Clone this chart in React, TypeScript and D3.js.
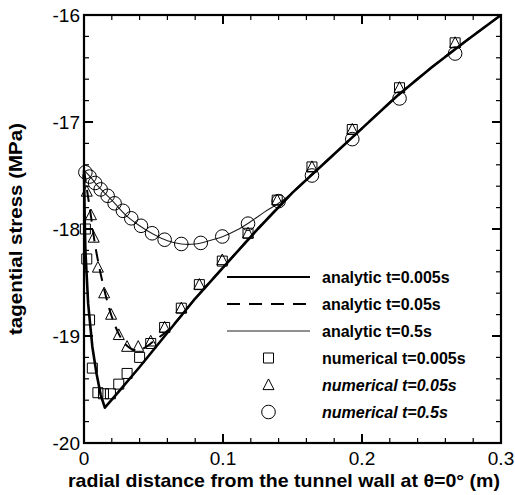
import React from "react";
import * as d3 from "d3";

// Analytic solutions (radial distance in m, tangential stress in MPa)
const analytic005R = [0, 0.0005, 0.001, 0.003, 0.006, 0.009, 0.012, 0.015, 0.025, 0.04, 0.06, 0.08, 0.1, 0.125, 0.15, 0.175, 0.2, 0.225, 0.25, 0.275, 0.3];
const analytic005V = [-17.45, -17.9, -18.2, -18.7, -19.1, -19.35, -19.55, -19.67, -19.52, -19.29, -18.97, -18.65, -18.36, -18.0, -17.66, -17.36, -17.06, -16.76, -16.49, -16.24, -16.0];

const analytic05R = [0, 0.002, 0.005, 0.008, 0.012, 0.016, 0.02, 0.025, 0.03, 0.036, 0.042, 0.05, 0.06, 0.07, 0.08, 0.1, 0.125, 0.15, 0.175, 0.2, 0.225, 0.25, 0.275, 0.3];
const analytic05V = [-17.45, -17.62, -17.88, -18.15, -18.42, -18.64, -18.82, -18.98, -19.08, -19.13, -19.12, -19.05, -18.95, -18.81, -18.65, -18.36, -18.0, -17.66, -17.36, -17.06, -16.76, -16.49, -16.24, -16.0];

const analytic5R = [0, 0.005, 0.01, 0.02, 0.03, 0.04, 0.05, 0.06, 0.07, 0.08, 0.09, 0.1, 0.11, 0.12, 0.13, 0.14, 0.15, 0.175, 0.2, 0.225, 0.25, 0.275, 0.3];
const analytic5V = [-17.45, -17.52, -17.6, -17.73, -17.87, -17.97, -18.05, -18.11, -18.14, -18.14, -18.11, -18.07, -18.01, -17.93, -17.84, -17.76, -17.66, -17.36, -17.06, -16.76, -16.49, -16.24, -16.0];

// Numerical results
const numeric005R = [0.001, 0.002, 0.004, 0.006, 0.01, 0.014, 0.019, 0.025, 0.031, 0.04, 0.048, 0.058, 0.07, 0.083, 0.0995, 0.118, 0.139, 0.164, 0.193, 0.227, 0.267];
const numeric005V = [-18.0, -18.28, -18.85, -19.3, -19.53, -19.54, -19.54, -19.45, -19.35, -19.2, -19.07, -18.92, -18.74, -18.52, -18.3, -18.04, -17.73, -17.42, -17.07, -16.68, -16.26];

const numeric05R = [0.002, 0.005, 0.007, 0.01, 0.0145, 0.0195, 0.025, 0.031, 0.039, 0.048, 0.058, 0.07, 0.083, 0.0995, 0.118, 0.139, 0.164, 0.193, 0.227, 0.267];
const numeric05V = [-17.65, -17.87, -18.08, -18.36, -18.6, -18.8, -18.99, -19.1, -19.1, -19.05, -18.92, -18.74, -18.52, -18.29, -18.04, -17.73, -17.42, -17.07, -16.68, -16.26];

const numeric5R = [0.001, 0.004, 0.008, 0.012, 0.017, 0.022, 0.028, 0.034, 0.041, 0.049, 0.058, 0.07, 0.084, 0.0995, 0.118, 0.14, 0.164, 0.193, 0.227, 0.267];
const numeric5V = [-17.47, -17.51, -17.57, -17.63, -17.69, -17.76, -17.83, -17.9, -17.97, -18.04, -18.1, -18.14, -18.13, -18.07, -17.95, -17.74, -17.5, -17.16, -16.78, -16.36];

const xTicks = [0, 0.1, 0.2, 0.3];
const xTickLabels = ["0", "0.1", "0.2", "0.3"];
const yTicks = [-20, -19, -18, -17, -16];
const yTickLabels = ["-20", "-19", "-18", "-17", "-16"];

const legendLabels = [
  "analytic t=0.005s",
  "analytic t=0.05s",
  "analytic t=0.5s",
  "numerical t=0.005s",
  "numerical t=0.05s",
  "numerical t=0.5s",
];

const W = 515;
const H = 495;
const FONT = "'Liberation Sans', Arial, Helvetica, sans-serif";

const x = d3.scaleLinear().domain([0, 0.3]).range([84, 501]);
const y = d3.scaleLinear().domain([-20, -16]).range([443, 15]);

const zip = (rs: number[], vs: number[]) => rs.map((r, i) => [r, vs[i]] as [number, number]);

const linePath = (rs: number[], vs: number[], curve: d3.CurveFactory) =>
  d3
    .line<[number, number]>()
    .x((d) => x(d[0]))
    .y((d) => y(d[1]))
    .curve(curve)(zip(rs, vs)) || "";

const SQ = 10;
const squarePath = (cx: number, cy: number) =>
  `M${cx - SQ / 2},${cy - SQ / 2}h${SQ}v${SQ}h${-SQ}Z`;
const TRI = 11;
const trianglePath = (cx: number, cy: number) =>
  `M${cx},${cy - TRI * 0.55}L${cx + TRI / 2},${cy + TRI * 0.42}L${cx - TRI / 2},${cy + TRI * 0.42}Z`;
const CR = 6.8;

export default function App() {
  const [x0, x1] = x.range();
  const [yb, yt] = y.range();

  const xMinor = d3.range(0, 0.3001, 0.02);
  const yMinor = d3.range(-20, -15.999, 0.2);

  const legendY = (i: number) => 277 + i * 27;
  const lx0 = 227;
  const lx1 = 310;
  const lcx = (lx0 + lx1) / 2;
  const textX = 322;

  return (
    <svg width={W} height={H} style={{ display: "block", position: "absolute", left: 0, top: 0 }} fontFamily={FONT}>
      <rect x={0} y={0} width={W} height={H} fill="#fff" />

      {/* ticks on all four sides, pointing inward */}
      <g stroke="#000" strokeWidth={1.2}>
        {xMinor.map((t, i) => {
          const major = Math.abs(t * 10 - Math.round(t * 10)) < 1e-6;
          const len = major ? 9 : 5;
          return (
            <g key={"xt" + i}>
              <line x1={x(t)} x2={x(t)} y1={yb} y2={yb - len} strokeWidth={major ? 2 : 1.2} />
              <line x1={x(t)} x2={x(t)} y1={yt} y2={yt + len} strokeWidth={major ? 2 : 1.2} />
            </g>
          );
        })}
        {yMinor.map((t, i) => {
          const major = Math.abs(t - Math.round(t)) < 1e-6;
          const len = major ? 9 : 5;
          return (
            <g key={"yt" + i}>
              <line y1={y(t)} y2={y(t)} x1={x0} x2={x0 + len} strokeWidth={major ? 2 : 1.2} />
              <line y1={y(t)} y2={y(t)} x1={x1} x2={x1 - len} strokeWidth={major ? 2 : 1.2} />
            </g>
          );
        })}
      </g>

      {/* analytic curves */}
      <path d={linePath(analytic5R, analytic5V, d3.curveCatmullRom)} fill="none" stroke="#222" strokeWidth={1.1} />
      <path d={linePath(analytic05R, analytic05V, d3.curveCatmullRom)} fill="none" stroke="#000" strokeWidth={2} strokeDasharray="12 8" />
      <path d={linePath(analytic005R, analytic005V, d3.curveLinear)} fill="none" stroke="#000" strokeWidth={2.6} strokeLinejoin="round" />

      {/* numerical results */}
      <g fill="none" stroke="#000" strokeWidth={1}>
        {numeric005R.map((r, i) => (
          <path key={"s" + i} d={squarePath(x(r), y(numeric005V[i]))} />
        ))}
        {numeric05R.map((r, i) => (
          <path key={"t" + i} d={trianglePath(x(r), y(numeric05V[i]))} />
        ))}
        {numeric5R.map((r, i) => (
          <circle key={"c" + i} cx={x(r)} cy={y(numeric5V[i])} r={CR} />
        ))}
      </g>

      {/* frame */}
      <rect x={x0} y={yt} width={x1 - x0} height={yb - yt} fill="none" stroke="#000" strokeWidth={2.2} />

      {/* tick labels */}
      <g fontSize={19} fill="#000">
        {xTicks.map((t, i) => (
          <text key={"xl" + i} x={x(t)} y={465} textAnchor="middle">
            {xTickLabels[i]}
          </text>
        ))}
        {yTicks.map((t, i) => (
          <text key={"yl" + i} x={80} y={y(t) + 7} textAnchor="end">
            {yTickLabels[i]}
          </text>
        ))}
      </g>

      {/* axis titles */}
      <text x={284} y={487} textAnchor="middle" fontSize={19} fontWeight="bold" textLength={432} lengthAdjust="spacingAndGlyphs">
        radial distance from the tunnel wall at θ=0° (m)
      </text>
      <text
        transform={`translate(22,${(yt + yb) / 2}) rotate(-90)`}
        textAnchor="middle"
        fontSize={19}
        fontWeight="bold"
        textLength={212}
        lengthAdjust="spacingAndGlyphs"
      >
        tagential stress (MPa)
      </text>

      {/* legend */}
      <g>
        <line x1={lx0} x2={lx1} y1={legendY(0)} y2={legendY(0)} stroke="#000" strokeWidth={2} />
        <line x1={lx0} x2={lx1} y1={legendY(1)} y2={legendY(1)} stroke="#000" strokeWidth={2} strokeDasharray="13 9" />
        <line x1={lx0} x2={lx1} y1={legendY(2)} y2={legendY(2)} stroke="#222" strokeWidth={1.1} />
        <g fill="none" stroke="#000" strokeWidth={1}>
          <path d={squarePath(lcx, legendY(3))} />
          <path d={trianglePath(lcx, legendY(4))} />
          <circle cx={lcx} cy={legendY(5)} r={CR} />
        </g>
        {legendLabels.map((lab, i) => (
          <text
            key={"lg" + i}
            x={textX}
            y={legendY(i) + 5.5}
            fontSize={16}
            fontWeight="bold"
            fontStyle={i === 4 || i === 5 ? "italic" : "normal"}
          >
            {lab}
          </text>
        ))}
      </g>
    </svg>
  );
}
